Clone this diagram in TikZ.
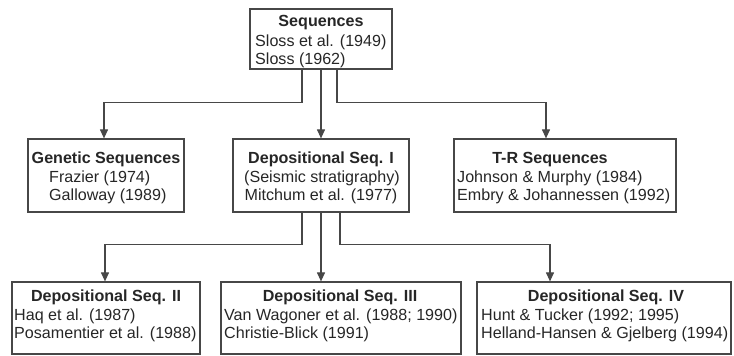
\documentclass[tikz,border=0pt]{standalone}
\usepackage{fontspec}
\setmainfont{Liberation Sans}
\usetikzlibrary{arrows.meta,positioning}

\begin{document}
\begin{tikzpicture}[
          x=1pt, y=-1pt,
          every node/.style={font=\fontsize{16.1}{19}\selectfont, text=black!85, inner sep=0pt},
          box/.style={rectangle, draw=black!72, line width=1.2pt},
          head/.style={anchor=base, font=\fontsize{16.1}{19}\selectfont\bfseries},
          entry/.style={anchor=base west},
          arrow/.style={-{Triangle[length=9pt,width=8pt]}, draw=black!72, line width=1.1pt}
        ]
          \useasboundingbox (0,0) rectangle (734,356);

          % Boxes
          \node[box, minimum width=142pt, minimum height=60pt] (seq) at (321,39) {};
          \node[box, minimum width=156pt, minimum height=73pt] (gen) at (106,175.5) {};
          \node[box, minimum width=176pt, minimum height=73pt] (depI) at (321,175.5) {};
          \node[box, minimum width=222pt, minimum height=73pt] (tr) at (565,175.5) {};
          \node[box, minimum width=188pt, minimum height=72pt] (depII) at (106,318) {};
          \node[box, minimum width=240pt, minimum height=72pt] (depIII) at (341,318) {};
          \node[box, minimum width=254pt, minimum height=72pt] (depIV) at (604,318) {};

          % Texts
          \node[head] (seq-t) at (321,27) {Sequences};
          \node[entry] (seq-a) at (255,46) {Sloss et al. (1949)};
          \node[entry] (seq-b) at (255,64) {Sloss (1962)};

          \node[head] (gen-t) at (106,163) {Genetic Sequences};
          \node[entry] (gen-a) at (49,182) {Frazier (1974)};
          \node[entry] (gen-b) at (49,200) {Galloway (1989)};

          \node[head] (depI-t) at (321,163) {Depositional Seq. I};
          \node[anchor=base] (depI-a) at (322,182) {(Seismic stratigraphy)};
          \node[anchor=base] (depI-b) at (321,200) {Mitchum et al. (1977)};

          \node[head] (tr-t) at (550,163) {T-R Sequences};
          \node[entry] (tr-a) at (457,182) {Johnson \& Murphy (1984)};
          \node[entry] (tr-b) at (457,200) {Embry \& Johannessen (1992)};

          \node[head] (depII-t) at (106,301) {Depositional Seq. II};
          \node[entry] (depII-a) at (14,320) {Haq et al. (1987)};
          \node[entry] (depII-b) at (14,338) {Posamentier et al. (1988)};

          \node[head] (depIII-t) at (340,301) {Depositional Seq. III};
          \node[entry] (depIII-a) at (224,320) {Van Wagoner et al. (1988; 1990)};
          \node[entry] (depIII-b) at (224,338) {Christie-Blick (1991)};

          \node[head] (depIV-t) at (606,301) {Depositional Seq. IV};
          \node[entry] (depIV-a) at (481,320) {Hunt \& Tucker (1992; 1995)};
          \node[entry] (depIV-b) at (481,338) {Helland-Hansen \& Gjelberg (1994)};

          % Connectors, upper level
          \draw[arrow] ([xshift=-19pt]seq.south) -- ++(0,33) -| ([xshift=-2pt]gen.north);
          \draw[arrow] (seq.south) -- (depI.north);
          \draw[arrow] ([xshift=16pt]seq.south) -- ++(0,33) -| ([xshift=-19pt]tr.north);

          % Connectors, lower level
          \draw[arrow] ([xshift=-19pt]depI.south) -- ++(0,32) -| ([xshift=-1pt]depII.north);
          \draw[arrow] (depI.south) -- (depI.south |- depIII.north);
          \draw[arrow] ([xshift=19pt]depI.south) -- ++(0,32) -| ([xshift=-54pt]depIV.north);

        \end{tikzpicture}
\end{document}
